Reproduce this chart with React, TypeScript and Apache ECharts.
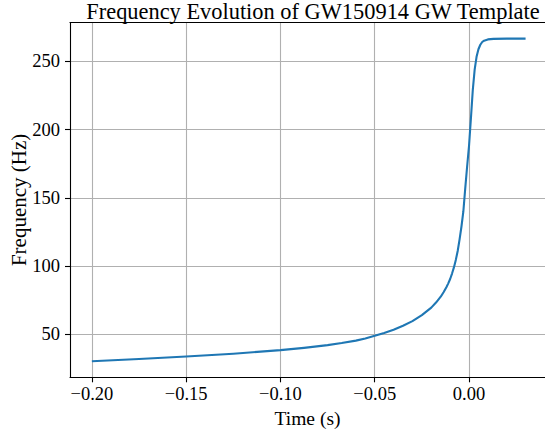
import React, { useEffect, useRef } from "react";
import * as echarts from "echarts";

const timeS = [
  -0.2, -0.175, -0.15, -0.125, -0.1, -0.0875, -0.075, -0.0675, -0.06, -0.055,
  -0.05, -0.045, -0.04, -0.035, -0.03, -0.025, -0.02, -0.0175, -0.015, -0.0135,
  -0.012, -0.011, -0.01, -0.009, -0.008, -0.007, -0.006, -0.005, -0.004, -0.003,
  -0.002, -0.001, 0, 0.001, 0.002, 0.003, 0.004, 0.005, 0.006, 0.007,
  0.008, 0.01, 0.013, 0.02, 0.03,
];
const freqHz = [
  30.2, 31.8, 33.6, 35.7, 38.3, 40.0, 42.0, 43.5, 45.3, 46.9,
  48.8, 50.9, 53.3, 56.2, 59.6, 64.0, 69.5, 73.2, 77.5, 80.8,
  84.5, 87.3, 90.5, 94.5, 99.0, 104.5, 111.0, 119.5, 129.0, 140.0,
  157.0, 173.0, 188.0, 208.0, 229.0, 244.0, 253.4, 259.0, 262.3, 264.3,
  265.3, 266.2, 266.6, 266.8, 266.8,
];
const xTicks = [-0.2, -0.15, -0.1, -0.05, 0];
const yTicks = [50, 100, 150, 200, 250];

const FONT = "'Liberation Serif', 'DejaVu Serif', serif";

export default function App() {
  const ref = useRef<HTMLDivElement>(null);
  useEffect(() => {
    document.body.style.margin = "0";
    const chart = echarts.init(ref.current!, null, { renderer: "svg" });
    const fmtX = (v: number) =>
      (v < -1e-9 ? "\u2212" : "") + Math.abs(v).toFixed(2);
    chart.setOption({
      animation: false,
      backgroundColor: "#ffffff",
      textStyle: { fontFamily: FONT },
      title: {
        text: "Frequency Evolution of GW150914 GW Template",
        left: 308,
        textAlign: "center",
        top: -5,
        textStyle: {
          fontFamily: FONT,
          fontWeight: "normal",
          fontSize: 22.4,
          color: "#000",
        },
      },
      grid: {
        left: 70,
        right: 0,
        top: 22.5,
        bottom: 55.7,
        containLabel: false,
        outerBoundsMode: "none",
      },
      xAxis: [
        {
          type: "value",
          min: -0.2116,
          max: 0.0403,
          splitNumber: 5,
          name: "Time (s)",
          nameLocation: "middle",
          nameGap: 31,
          nameMoveOverlap: false,
          nameTextStyle: { fontFamily: FONT, fontSize: 19.5, color: "#000" },
          axisLine: { show: true, onZero: false, lineStyle: { color: "#000", width: 1.1 } },
          axisTick: {
            show: true,
            customValues: xTicks,
            length: 5,
            lineStyle: { color: "#000", width: 1.1 },
          },
          axisLabel: {
            customValues: xTicks,
            formatter: fmtX,
            margin: 7,
            fontFamily: FONT,
            fontSize: 18.5,
            color: "#000",
          },
          splitLine: { show: true, lineStyle: { color: "#b0b0b0", width: 1.1 } },
        },
        {
          type: "value",
          position: "top",
          min: -0.2116,
          max: 0.0403,
          axisLine: { show: true, onZero: false, lineStyle: { color: "#000", width: 1.1 } },
          axisTick: { show: false },
          axisLabel: { show: false },
          splitLine: { show: false },
        },
      ],
      yAxis: {
        type: "value",
        min: 18.4,
        max: 278.6,
        splitNumber: 5,
        name: "Frequency (Hz)",
        nameLocation: "middle",
        nameGap: 41,
        nameMoveOverlap: false,
        nameTextStyle: { fontFamily: FONT, fontSize: 21, color: "#000" },
        axisLine: { show: true, onZero: false, lineStyle: { color: "#000", width: 1.1 } },
        axisTick: {
          show: true,
          customValues: yTicks,
          length: 5,
          lineStyle: { color: "#000", width: 1.1 },
        },
        axisLabel: {
          customValues: yTicks,
          margin: 10,
          fontFamily: FONT,
          fontSize: 18.5,
          color: "#000",
        },
        splitLine: { show: true, lineStyle: { color: "#b0b0b0", width: 1.1 } },
      },
      series: [
        {
          type: "line",
          data: timeS.map((t, i) => [t, freqHz[i]]),
          showSymbol: false,
          symbol: "none",
          smooth: false,
          lineStyle: { color: "#1f77b4", width: 2.1, join: "round" },
          z: 5,
        },
      ],
    });
    return () => chart.dispose();
  }, []);
  return <div ref={ref} style={{ width: 545, height: 433 }} />;
}
